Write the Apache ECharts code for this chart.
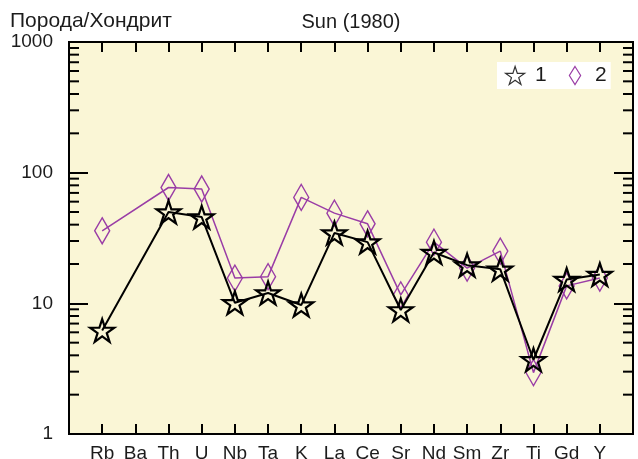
<!DOCTYPE html>
<html>
<head>
<meta charset="utf-8">
<script src="https://cdn.jsdelivr.net/npm/echarts@6/dist/echarts.min.js"></script>
<style>
html,body{margin:0;padding:0;background:#fff;}
#c{width:638px;height:459px;}
</style>
</head>
<body>
<div id="c"></div>
<script>
// ---- data ----
const elements = ['Rb','Ba','Th','U','Nb','Ta','K','La','Ce','Sr','Nd','Sm','Zr','Ti','Gd','Y'];
const series1 = [6.2, null, 50, 45.7, 10.1, 12.0, 9.7, 34.5, 29.4, 8.9, 24.5, 19.6, 18.2, 3.7, 15.2, 16.6];
const series2 = [35.9, null, 77, 75, 15.6, 16.0, 64.7, 49, 40.6, 11.6, 29.4, 18.6, 25.1, 2.95, 13.6, 15.6];
const yTicks = [1, 10, 100, 1000];
const yMinorTicks = [2,3,4,5,6,7,8,9,20,30,40,50,60,70,80,90,200,300,400,500,600,700,800,900];
const titleLeft = 'Порода/Хондрит';
const titleCenter = 'Sun (1980)';
const seriesNames = ['1', '2'];

// padded categories so the first/last element sit one step inside the frame
const cats = [''].concat(elements, ['']);
const pad = arr => [null].concat(arr, [null]);

const FONT = '"Liberation Sans", Arial, sans-serif';
const TXT = '#1c1c1c';
const starPath = 'path://M50,2 L61.2,36.3 L97.5,36.3 L68.2,57.6 L79.4,92 L50,70.8 L20.6,92 L31.8,57.6 L2.5,36.3 L38.8,36.3 Z';
const diamondPath = 'path://M5,0 L10,8 L5,16 L0,8 Z';
const purple = '#9A3DA6';

const chart = echarts.init(document.getElementById('c'));

const yAxisBase = {
  type: 'log', logBase: 10, min: 1, max: 1000,
  axisLine: { show: false },
  splitLine: { show: false },
  axisTick: { show: true, inside: true, length: 19, lineStyle: { color: '#000', width: 2 } }
};
const xAxisBase = {
  type: 'category', data: cats, boundaryGap: false,
  axisLine: { show: false },
  splitLine: { show: false },
  axisTick: { show: true, inside: true, length: 10, alignWithLabel: true, lineStyle: { color: '#000', width: 2 } }
};

chart.setOption({
  animation: false,
  backgroundColor: '#fff',
  textStyle: { fontFamily: FONT },
  title: [
    { text: titleLeft, left: 10, top: 11, padding: 0, textStyle: { fontSize: 21, fontWeight: 'normal', color: TXT, fontFamily: FONT } },
    { text: titleCenter, left: 351, top: 12, padding: 0, textAlign: 'center', textStyle: { fontSize: 20, fontWeight: 'normal', color: TXT, fontFamily: FONT } }
  ],
  grid: {
    left: 69, right: 5, top: 42, bottom: 25,
    containLabel: false, outerBoundsMode: 'none',
    show: true, backgroundColor: '#FAF6D6', borderColor: '#000', borderWidth: 2
  },
  legend: {
    left: 497, top: 62,
    backgroundColor: '#fff',
    padding: [3, 4, 3, 8],
    itemGap: 22,
    itemWidth: 20, itemHeight: 18,
    textStyle: { fontSize: 21, color: TXT, fontFamily: FONT, padding: [0, 0, 0, 5] },
    data: [
      { name: seriesNames[0], icon: starPath, itemStyle: { color: 'rgba(0,0,0,0)', borderColor: '#333', borderWidth: 1.2 } },
      { name: seriesNames[1], icon: diamondPath, itemStyle: { color: 'rgba(0,0,0,0)', borderColor: purple, borderWidth: 1.2 } }
    ]
  },
  xAxis: [
    Object.assign({}, xAxisBase, { position: 'bottom',
      axisLabel: { show: true, margin: 10, fontSize: 19, color: TXT, fontFamily: FONT, interval: 0 } }),
    Object.assign({}, xAxisBase, { position: 'top', axisLabel: { show: false } })
  ],
  yAxis: [
    Object.assign({}, yAxisBase, { position: 'left',
      axisLabel: { show: true, margin: 16, fontSize: 19, color: TXT, fontFamily: FONT,
        formatter: v => (yTicks.indexOf(v) >= 0 ? String(v) : '') } }),
    Object.assign({}, yAxisBase, { position: 'right', axisLabel: { show: false } })
  ],
  series: [
    {
      name: seriesNames[1], type: 'line', data: pad(series2), connectNulls: true,
      symbol: 'diamond', symbolSize: [15, 26],
      lineStyle: { color: purple, width: 1.5 },
      itemStyle: { color: 'rgba(0,0,0,0)', borderColor: purple, borderWidth: 1.5 },
      z: 3
    },
    {
      name: seriesNames[0], type: 'line', data: pad(series1), connectNulls: true,
      symbol: starPath, symbolSize: 24, symbolKeepAspect: true,
      lineStyle: { color: '#000', width: 2 },
      itemStyle: { color: 'rgba(0,0,0,0)', borderColor: '#000', borderWidth: 2.2 },
      z: 4
    },
    {
      type: 'custom', silent: true, z: 5,
      data: yMinorTicks.map(v => [0, v]),
      renderItem: function (params, api) {
        const v = api.value(1);
        const l = api.coord([0, v]);
        const r = api.coord([cats.length - 1, v]);
        const st = { stroke: '#000', lineWidth: 2 };
        return {
          type: 'group',
          children: [
            { type: 'line', shape: { x1: l[0], y1: l[1], x2: l[0] + 10, y2: l[1] }, style: st },
            { type: 'line', shape: { x1: r[0] - 10, y1: r[1], x2: r[0], y2: r[1] }, style: st }
          ]
        };
      }
    }
  ]
});
</script>
</body>
</html>
